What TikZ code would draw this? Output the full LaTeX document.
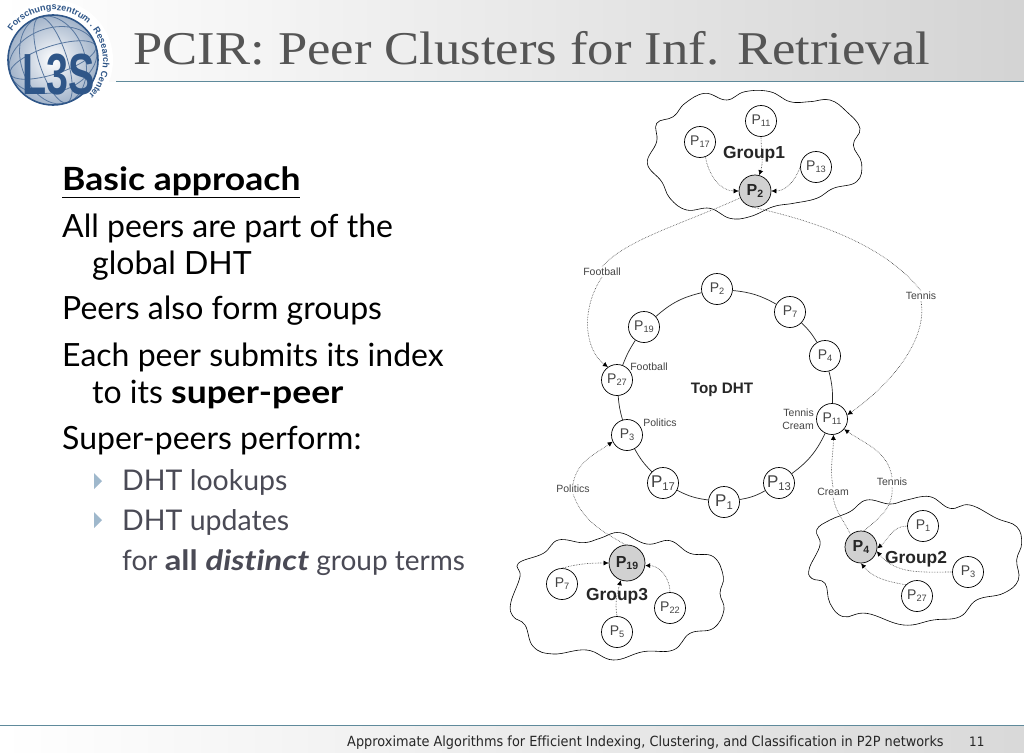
\documentclass[tikz,border=0pt]{standalone}
\usepackage{fontspec}
\setmainfont{Lato}[Ligatures=NoCommon]
\newfontfamily\titlefont[FakeStretch=1.12]{Liberation Serif}
\newfontfamily\figfont{Liberation Sans}
\newfontfamily\footfont[FakeStretch=0.92,Ligatures=NoCommon]{DejaVu Sans}
\usetikzlibrary{arrows.meta,decorations.text,shapes.geometric}
\definecolor{logoblue}{HTML}{2F5688}
\definecolor{rulecol}{HTML}{5F8A9B}
\definecolor{titlecol}{HTML}{555555}
\definecolor{subcol}{HTML}{4A4A55}
\definecolor{bulletcol}{HTML}{9FB8CC}
\definecolor{figtext}{HTML}{444444}
\newcommand\Pn[2][]{#1P\raisebox{-.3ex}{\scalebox{.66}{#2}}}
\newcommand\wb[2][1.11]{\scalebox{#1}[1]{\textbf{#2}}}
\tikzset{
  body/.style={anchor=base west,inner sep=0,font=\fontsize{32}{32}\selectfont,text=black},
  subbody/.style={anchor=base west,inner sep=0,font=\fontsize{28.5}{28.5}\selectfont,text=subcol},
  peer/.style={circle,draw=black,line width=.7pt,fill=white,minimum size=31pt,inner sep=0,font=\figfont\fontsize{14}{14}\selectfont,text=figtext},
  bigpeer/.style={peer,font=\figfont\fontsize{17}{17}\selectfont},
  superpeer/.style={circle,draw=black,line width=.7pt,fill=black!18,minimum size=32pt,inner sep=0,font=\figfont\bfseries\fontsize{16}{16}\selectfont,text=black!85},
  grouplbl/.style={inner sep=0,font=\figfont\bfseries\fontsize{17.4}{17.4}\selectfont,text=black!85},
  termlbl/.style={inner sep=1pt,font=\figfont\fontsize{10.5}{10.5}\selectfont,text=figtext},
  cloudline/.style={draw=black,line width=.6pt,fill=white},
  ringline/.style={draw=black!85,line width=.7pt},
  dotline/.style={draw=black!75,line width=.6pt,densely dotted},
  dotarrow/.style={dotline,-{Latex[length=5pt,width=5pt,black]}},
  gridline/.style={draw=logoblue!80,line width=.8pt},
}
\begin{document}
\begin{tikzpicture}[x=1pt,y=-1pt]
\useasboundingbox (0,0) rectangle (1024,752);
\fill[white] (0,0) rectangle (1024,752);
% bands
\shade[left color=white,right color=black!17] (0,0) rectangle (1024,81);
\shade[left color=white,right color=black!15] (0,726) rectangle (1024,752);
\draw[rulecol,line width=1.2pt] (116,81.5) -- (1024,81.5);
\draw[rulecol,line width=1.2pt] (0,725.5) -- (1024,725.5);
% logo
\fill[white] (53,60) circle (60);
\shade[inner color=white,outer color=logoblue!45] (53,60) circle (45);
\begin{scope}
\clip (53,60) circle (45);
\draw[gridline,rotate around={18:(53,60)}] (53,60) ellipse [x radius=14,y radius=45];
\draw[gridline,rotate around={18:(53,60)}] (53,60) ellipse [x radius=32,y radius=45];
\draw[gridline,rotate around={18:(53,60)}] (53,60) ellipse [x radius=45,y radius=14];
\draw[gridline,rotate around={18:(53,60)}] (53,60) ellipse [x radius=45,y radius=32];
\end{scope}
\draw[logoblue,line width=1.6pt] (53,60) circle (45);
\node[inner sep=0,anchor=base,text=logoblue] (logotext) at (59,94) {\figfont\bfseries\fontsize{58}{58}\selectfont\scalebox{.68}[1]{L3S}};
\begin{scope}[shift={(53,60)},x=1pt,y=1pt]
\path[decorate,decoration={text along path,
  text={|\figfont\bfseries\fontsize{9}{9}\selectfont\color{logoblue}|Forschungszentrum . Research Center}}]
  (145:50) arc (145:-65:50);
\end{scope}
% title
\node[anchor=base west,inner sep=0,text=titlecol,font=\titlefont\fontsize{47}{47}\selectfont] (title) at (133,64) {PCIR: Peer Clusters for Inf. Retrieval};
% body
\node[body] (t1) at (62,190) {\underline{\wb{Basic approach}}};
\node[body] (t2) at (62,237) {All peers are part of the};
\node[body] (t3) at (92,274) {global DHT};
\node[body] (t4) at (62,319) {Peers also form groups};
\node[body] (t5) at (62,366) {Each peer submits its index};
\node[body] (t6) at (92,403) {to its \wb{super-peer}};
\node[body] (t7) at (62,449) {Super-peers perform:};
\node[subbody] (s1) at (122,490) {DHT lookups};
\node[subbody] (s2) at (122,530) {DHT updates};
\node[subbody,font=\fontsize{28}{28}\selectfont] (s3) at (122,570) {for \wb[1.17]{all \textit{distinct}} group terms};
\fill[bulletcol] (94,473) -- (102,481) -- (94,489) -- cycle;
\fill[bulletcol] (94,512) -- (102,520) -- (94,528) -- cycle;
% clouds
\begin{scope}[shift={(630,85)},x=.3333pt,y=-.3333pt]
\draw[cloudline] plot[smooth cycle,tension=.7] coordinates {(52,235)(80,170)(80,115)(130,95)(165,55)(225,25)(290,45)(345,20)(420,20)(480,50)(540,50)(600,45)(650,80)(690,130)(670,180)(695,235)(680,290)(610,310)(560,340)(490,355)(430,365)(360,395)(300,400)(240,370)(170,375)(120,340)(95,290)};
\end{scope}
\begin{scope}[shift={(500,500)},x=.3333pt,y=-.3333pt]
\draw[cloudline] plot[smooth cycle,tension=.7] coordinates {(32,310)(60,230)(55,190)(130,160)(175,120)(250,128)(300,115)(360,98)(440,132)(510,122)(570,160)(640,170)(670,230)(660,280)(672,330)(640,385)(570,400)(520,450)(430,455)(340,480)(260,450)(160,462)(100,440)(75,375)(40,350)};
\end{scope}
\begin{scope}[shift={(800,480)},x=.3333pt,y=-.3333pt]
\draw[cloudline] plot[smooth cycle,tension=.7] coordinates {(28,265)(60,195)(50,150)(90,120)(150,95)(200,60)(270,72)(320,60)(390,50)(450,85)(510,75)(590,115)(650,140)(665,190)(650,240)(655,300)(610,340)(530,360)(480,410)(400,420)(310,435)(200,400)(130,410)(90,370)(75,310)(35,295)};
\end{scope}
% group 1
\node[peer] (ga11) at (761,121) {\Pn{11}};
\node[peer] (ga17) at (700,142) {\Pn{17}};
\node[peer] (ga13) at (816,167) {\Pn{13}};
\node[superpeer] (ga2) at (755,191) {\Pn{2}};
\node[grouplbl] (gal) at (754,154) {Group1};
% group 3
\node[superpeer,minimum size=36pt] (gc19) at (627,563) {\Pn{19}};
\node[peer] (gc7) at (562,584) {\Pn{7}};
\node[peer] (gc22) at (670,608) {\Pn{22}};
\node[peer] (gc5) at (617,632) {\Pn{5}};
\node[grouplbl] (gcl) at (617,596) {Group3};
% group 2
\node[superpeer] (gb4) at (861,547) {\Pn{4}};
\node[peer] (gb1) at (923,526) {\Pn{1}};
\node[peer] (gb3) at (968,572) {\Pn{3}};
\node[peer] (gb27) at (917,596) {\Pn{27}};
\node[grouplbl] (gbl) at (916,559) {Group2};
% ring nodes
\node[peer] (r2) at (717,289) {\Pn{2}};
\node[peer] (r7) at (790,312) {\Pn{7}};
\node[peer] (r4) at (825,356) {\Pn{4}};
\node[peer] (r11) at (832,419) {\Pn{11}};
\node[bigpeer] (r13) at (779,483) {\Pn{13}};
\node[bigpeer] (r1) at (724,502) {\Pn{1}};
\node[bigpeer] (r17) at (663,483) {\Pn{17}};
\node[peer] (r3) at (627,435) {\Pn{3}};
\node[peer] (r27) at (617,380) {\Pn{27}};
\node[peer] (r19) at (644,327) {\Pn{19}};
\node[inner sep=0,font=\figfont\bfseries\fontsize{15.2}{15.2}\selectfont,text=black!85] (top) at (722,390) {Top DHT};
\draw[ringline] (r2) to[bend left=12] (r7);
\draw[ringline] (r7) to[bend left=8] (r4);
\draw[ringline] (r4) to[bend left=8] (r11);
\draw[ringline] (r11) to[bend left=14] (r13);
\draw[ringline] (r13) to[bend left=10] (r1);
\draw[ringline] (r1) to[bend left=10] (r17);
\draw[ringline] (r17) to[bend left=8] (r3);
\draw[ringline] (r3) to[bend left=6] (r27);
\draw[ringline] (r27) to[bend left=6] (r19);
\draw[ringline] (r19) to[bend left=14] (r2);
% term labels
\node[termlbl] (lfo) at (602,272) {Football};
\node[termlbl] (lfi) at (649,367) {Football};
\node[termlbl] (lpi) at (660,423) {Politics};
\node[termlbl] (lpo) at (573,489) {Politics};
\node[termlbl] (lto) at (921,296) {Tennis};
\node[termlbl,align=right,font=\figfont\fontsize{10.5}{12.6}\selectfont] (ltc) at (798,419) {Tennis\\Cream};
\node[termlbl] (lcb) at (833,492) {Cream};
\node[termlbl] (ltb) at (892,482) {Tennis};
% group links
\draw[dotarrow] (ga17.-70) to[out=-80,in=180] (ga2.west);
\draw[dotarrow] (ga11.south) to[out=-90,in=72] (ga2.75);
\draw[dotarrow] (ga13.west) to[out=-110,in=0] (ga2.east);
\draw[dotarrow] (gc7.north) to[out=15,in=180] (gc19.west);
\draw[dotarrow] (gc5.north) to[out=100,in=-105] (gc19.-110);
\draw[dotarrow] (gc22.north) to[out=90,in=0] (gc19.-8);
\draw[dotarrow] (gb1.west) to[out=180,in=40] (gb4.-5);
\draw[dotarrow] (gb3.west) to[out=180,in=-50] (gb4.-15);
\draw[dotarrow] (gb27.135) to[out=170,in=-50] (gb4.-90);
% top links
\draw[dotline] (ga2.-155) .. controls (680,225) and (625,240) .. (lfo.north);
\draw[dotarrow] (lfo.south) .. controls (580,310) and (585,350) .. (r27.125);
\draw[dotline] (ga2.-100) .. controls (820,222) and (887,247) .. (lto.north);
\draw[dotarrow] (lto.south) .. controls (928,340) and (890,385) .. (r11.15);
\draw[dotline] (gc19.95) to[out=150,in=-70] (lpo.south);
\draw[dotarrow] (lpo.north) to[out=80,in=215] (r3.205);
\draw[dotline] (gb4.130) to[out=115,in=-80] (lcb.south);
\draw[dotarrow] (lcb.north) to[out=100,in=-90] (r11.-85);
\draw[dotline] (gb4.80) to[out=40,in=-85] (ltb.south);
\draw[dotarrow] (ltb.north) to[out=100,in=-35] (r11.-40);
% footer
\node[anchor=base west,inner sep=0,text=black!85,font=\footfont\fontsize{14}{14}\selectfont] (foot) at (347,746) {Approximate Algorithms for Efficient Indexing, Clustering, and Classification in P2P networks};
\node[anchor=base west,inner sep=0,text=black!85,font=\footfont\fontsize{13}{13}\selectfont] (pg) at (969,746) {11};
\end{tikzpicture}
\end{document}
